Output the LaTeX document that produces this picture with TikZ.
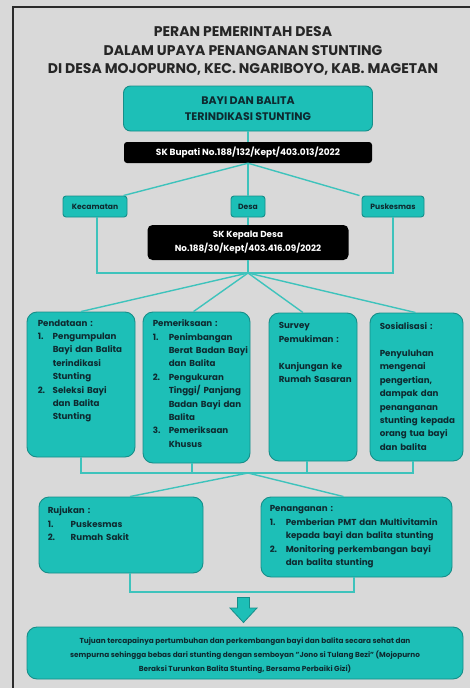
\documentclass[tikz,border=0pt]{standalone}
\usepackage{fontspec}
\setmainfont{Poppins}
\definecolor{bg}{HTML}{D9D9D9}
\definecolor{tealf}{HTML}{1DBFB7}
\definecolor{teald}{HTML}{168E89}
\definecolor{tline}{HTML}{3EC3BC}
\definecolor{ink}{HTML}{0E2A30}
\definecolor{framec}{HTML}{2B2B2B}
\newcommand{\li}[3]{\par\hangindent=#1\hangafter=1\noindent\makebox[#1][l]{#2}#3}
\tikzset{
  tealbox/.style={draw=teald, fill=tealf, line width=0.9pt, rounded corners=10pt, inner sep=0pt},
  smallbox/.style={draw=teald, fill=tealf, line width=0.9pt, rounded corners=3pt, inner sep=0pt, minimum height=21pt, font=\fontsize{7.6}{10}\selectfont\bfseries, text=ink},
  blackbox/.style={fill=black, rounded corners=3pt, inner sep=0pt, text=white, align=center, font=\fontsize{9}{13.5}\selectfont\bfseries},
  conn/.style={draw=tline, line width=1.4pt},
  boxtxt/.style={anchor=north west, inner sep=0pt, text width=#1, align=left, font=\fontsize{8.7}{13.4}\selectfont\bfseries, text=ink},
}
\begin{document}
\begin{tikzpicture}[x=1pt,y=-1pt]
\fill[bg] (0,0) rectangle (470,688);
\useasboundingbox (0,0) rectangle (470,688);
\draw[framec, line width=2pt] (13,690) -- (13,6.5) -- (472,6.5);

\node[align=center, text=black!85, font=\fontsize{14}{18.5}\selectfont\bfseries] (title) at (243,51)
  {PERAN PEMERINTAH DESA\\DALAM UPAYA PENANGANAN STUNTING\\DI DESA MOJOPURNO, KEC. NGARIBOYO, KAB. MAGETAN};

\node[tealbox, rounded corners=7pt, minimum width=249pt, minimum height=45pt, align=center, text=ink,
      font=\fontsize{11}{15.5}\selectfont\bfseries] (bayi) at (248,108.5) {BAYI DAN BALITA\\TERINDIKASI STUNTING};
\node[blackbox, minimum width=248pt, minimum height=21pt] (skb) at (248,152.5) {SK Bupati No.188/132/Kept/403.013/2022};

\node[smallbox, minimum width=64pt] (kec) at (95,206.5) {Kecamatan};
\node[smallbox, minimum width=34pt] (desa) at (248,206.5) {Desa};
\node[smallbox, minimum width=62pt] (pus) at (393,206.5) {Puskesmas};

\node[blackbox, rounded corners=5pt, minimum width=201pt, minimum height=35pt, font=\fontsize{8.8}{13.5}\selectfont\bfseries] (skk) at (248,242.5)
  {SK Kepala Desa\\No.188/30/Kept/403.416.09/2022};

\coordinate (hub1) at (248,273);
\coordinate (hub2) at (248,473);
\coordinate (hub3) at (248,592);

% four boxes
\node[tealbox, minimum width=108pt, minimum height=145pt] (b1) at (81,384.5) {};
\node[tealbox, minimum width=107pt, minimum height=151pt] (b2) at (196.5,387.5) {};
\node[tealbox, minimum width=88pt, minimum height=148pt] (b3) at (313,387) {};
\node[tealbox, minimum width=93pt, minimum height=148pt] (b4) at (416.5,387) {};

\node[boxtxt=100pt] (t1) at ([shift={(11,8)}]b1.north west)
  {Pendataan :
   \li{15pt}{1.}{Pengumpulan\newline Bayi dan Balita\newline terindikasi\newline Stunting}
   \li{15pt}{2.}{Seleksi Bayi\newline dan Balita\newline Stunting}\par};
\node[boxtxt=100pt] (t2) at ([shift={(10,8)}]b2.north west)
  {Pemeriksaan :
   \li{16pt}{1.}{Penimbangan\newline Berat Badan Bayi\newline dan Balita}
   \li{16pt}{2.}{Pengukuran\newline Tinggi/ Panjang\newline Badan Bayi dan\newline Balita}
   \li{16pt}{3.}{Pemeriksaan\newline Khusus}\par};
\node[boxtxt=85pt] (t3) at ([shift={(10,10)}]b3.north west)
  {Survey\newline Pemukiman :\newline\mbox{}\newline Kunjungan ke\newline Rumah Sasaran\par};
\node[boxtxt=88pt] (t4) at ([shift={(10,10)}]b4.north west)
  {Sosialisasi :\newline\mbox{}\newline Penyuluhan\newline mengenai\newline pengertian,\newline dampak dan\newline penanganan\newline stunting kepada\newline orang tua bayi\newline dan balita\par};

% lower boxes
\node[tealbox, minimum width=164pt, minimum height=76pt] (ruj) at (121,535) {};
\node[tealbox, minimum width=191pt, minimum height=80pt] (pen) at (356.5,537) {};
\node[boxtxt=150pt] (t5) at ([shift={(9,10)}]ruj.north west)
  {Rujukan :
   \li{23pt}{1.}{Puskesmas}
   \li{23pt}{2.}{Rumah Sakit}\par};
\node[boxtxt=190pt] (t6) at ([shift={(9,9)}]pen.north west)
  {Penanganan :
   \li{16pt}{1.}{Pemberian PMT dan Multivitamin\newline kepada bayi dan balita stunting}
   \li{16pt}{2.}{Monitoring perkembangan bayi\newline dan balita stunting}\par};

\node[tealbox, minimum width=436pt, minimum height=52pt] (goal) at (245,653) {};
\node[align=center, text=ink, inner sep=0pt, font=\fontsize{7.3}{14}\selectfont\bfseries] (goaltxt) at (245,655.5)
  {Tujuan tercapainya pertumbuhan dan perkembangan bayi dan balita secara sehat dan\\
   sempurna sehingga bebas dari stunting dengan semboyan "Jono si Tulang Bezi" (Mojopurno\\
   Beraksi Turunkan Balita Stunting, Bersama Perbaiki Gizi)};

% arrow
\draw[draw=teald, fill=tealf, line width=0.8pt]
  (237.5,597.5) -- (249.5,597.5) -- (249.5,608) -- (257,608) -- (243.5,622.5) -- (230,608) -- (237.5,608) -- cycle;

% connectors
\draw[conn] (bayi.south) -- (skb.north);
\draw[conn] (skb.south) -- ([xshift=-4pt]kec.north east);
\draw[conn] (skb.south) -- (desa.north);
\draw[conn] (skb.south) -- ([xshift=-2pt]pus.north west);
\draw[conn] (desa.south) -- (skk.north);
\draw[conn] (skk.south) -- (hub1);
\draw[conn] ([xshift=2pt]kec.south) |- (hub1) -| (pus.south);
\draw[conn] (hub1) -- (b1.north);
\draw[conn] (hub1) -- ([xshift=-3pt]b2.north);
\draw[conn] (hub1) -- ([xshift=-10pt]b3.north);
\draw[conn] (hub1) -- ([xshift=-1pt]b4.north);
\draw[conn] (b1.south) |- (hub2) -| ([xshift=-3.5pt]b4.south);
\draw[conn] ([xshift=-4.5pt]b2.south) -- ([xshift=-4.5pt]b2.south |- hub2);
\draw[conn] ([xshift=-6pt]b3.south) -- ([xshift=-6pt]b3.south |- hub2);
\draw[conn] (hub2) -- ([xshift=9pt]ruj.north);
\draw[conn] (hub2) -- ([xshift=-13pt]pen.north);
\draw[conn] ([xshift=9pt]ruj.south) |- (hub3) -| ([xshift=-2.5pt]pen.south);
\end{tikzpicture}
\end{document}
